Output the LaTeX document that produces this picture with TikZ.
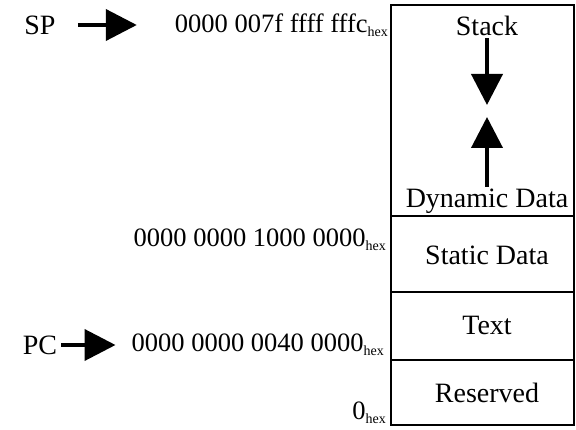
\documentclass[tikz,border=0pt]{standalone}
\usepackage{fontspec}
\setmainfont{Liberation Serif}
\usetikzlibrary{arrows.meta}
\newcommand{\hx}{\raisebox{-0.3ex}{\fontsize{14}{14}\selectfont hex}}
\begin{document}
\begin{tikzpicture}[x=1pt,y=1pt,
	txt/.style={inner sep=0pt,font=\fontsize{28}{30}\selectfont},
	addr/.style={inner sep=0pt,anchor=east,font=\fontsize{26.5}{30}\selectfont},
	bigarrow/.style={line width=4pt,-{Triangle[width=31pt,length=31pt]}},
	seg/.style={line width=1.6pt}]
		\useasboundingbox (0,0) rectangle (576,429);
		%memory
		\draw[seg] (391,4) rectangle (574,424);
		\draw[seg] (391,213) -- (574,213);
		\draw[seg] (391,137) -- (574,137);
		\draw[seg] (391,69) -- (574,69);
		\node[txt] (stack) at (487,403) {Stack};
		\node[txt] (dyn) at (487,228) {Dynamic Data};
		\node[txt] (stat) at (487,174) {Static Data};
		\node[txt] (text) at (487,104) {Text};
		\node[txt] (res) at (487,36) {Reserved};
		\coordinate (down) at (487,324);
		\coordinate (up) at (487,312);
		\draw[bigarrow,shorten <=2pt] (stack.south) -- (down);
		\draw[bigarrow,shorten <=2pt] (dyn.north) -- (up);
		%addresses
		\node[addr] (sphex) at (388,404) {0000 007f ffff fffc\hx};
		\node[addr] (stathex) at (386,189) {0000 0000 1000 0000\hx};
		\node[addr] (pchex) at (384,84) {0000 0000 0040 0000\hx};
		\node[addr] (zerohex) at (386,16) {0\hx};
		%SP
		\node[txt] (sp) at (40,404) {SP};
		\draw[bigarrow,shorten <=22pt,shorten >=38pt] (sp.east) -- (sphex.west |- sp.east);
		%PC
		\node[txt] (pc) at (40,84) {PC};
		\draw[bigarrow,shorten <=4pt,shorten >=16pt] (pc.east) -- (pchex.west |- pc.east);
	\end{tikzpicture}
\end{document}
